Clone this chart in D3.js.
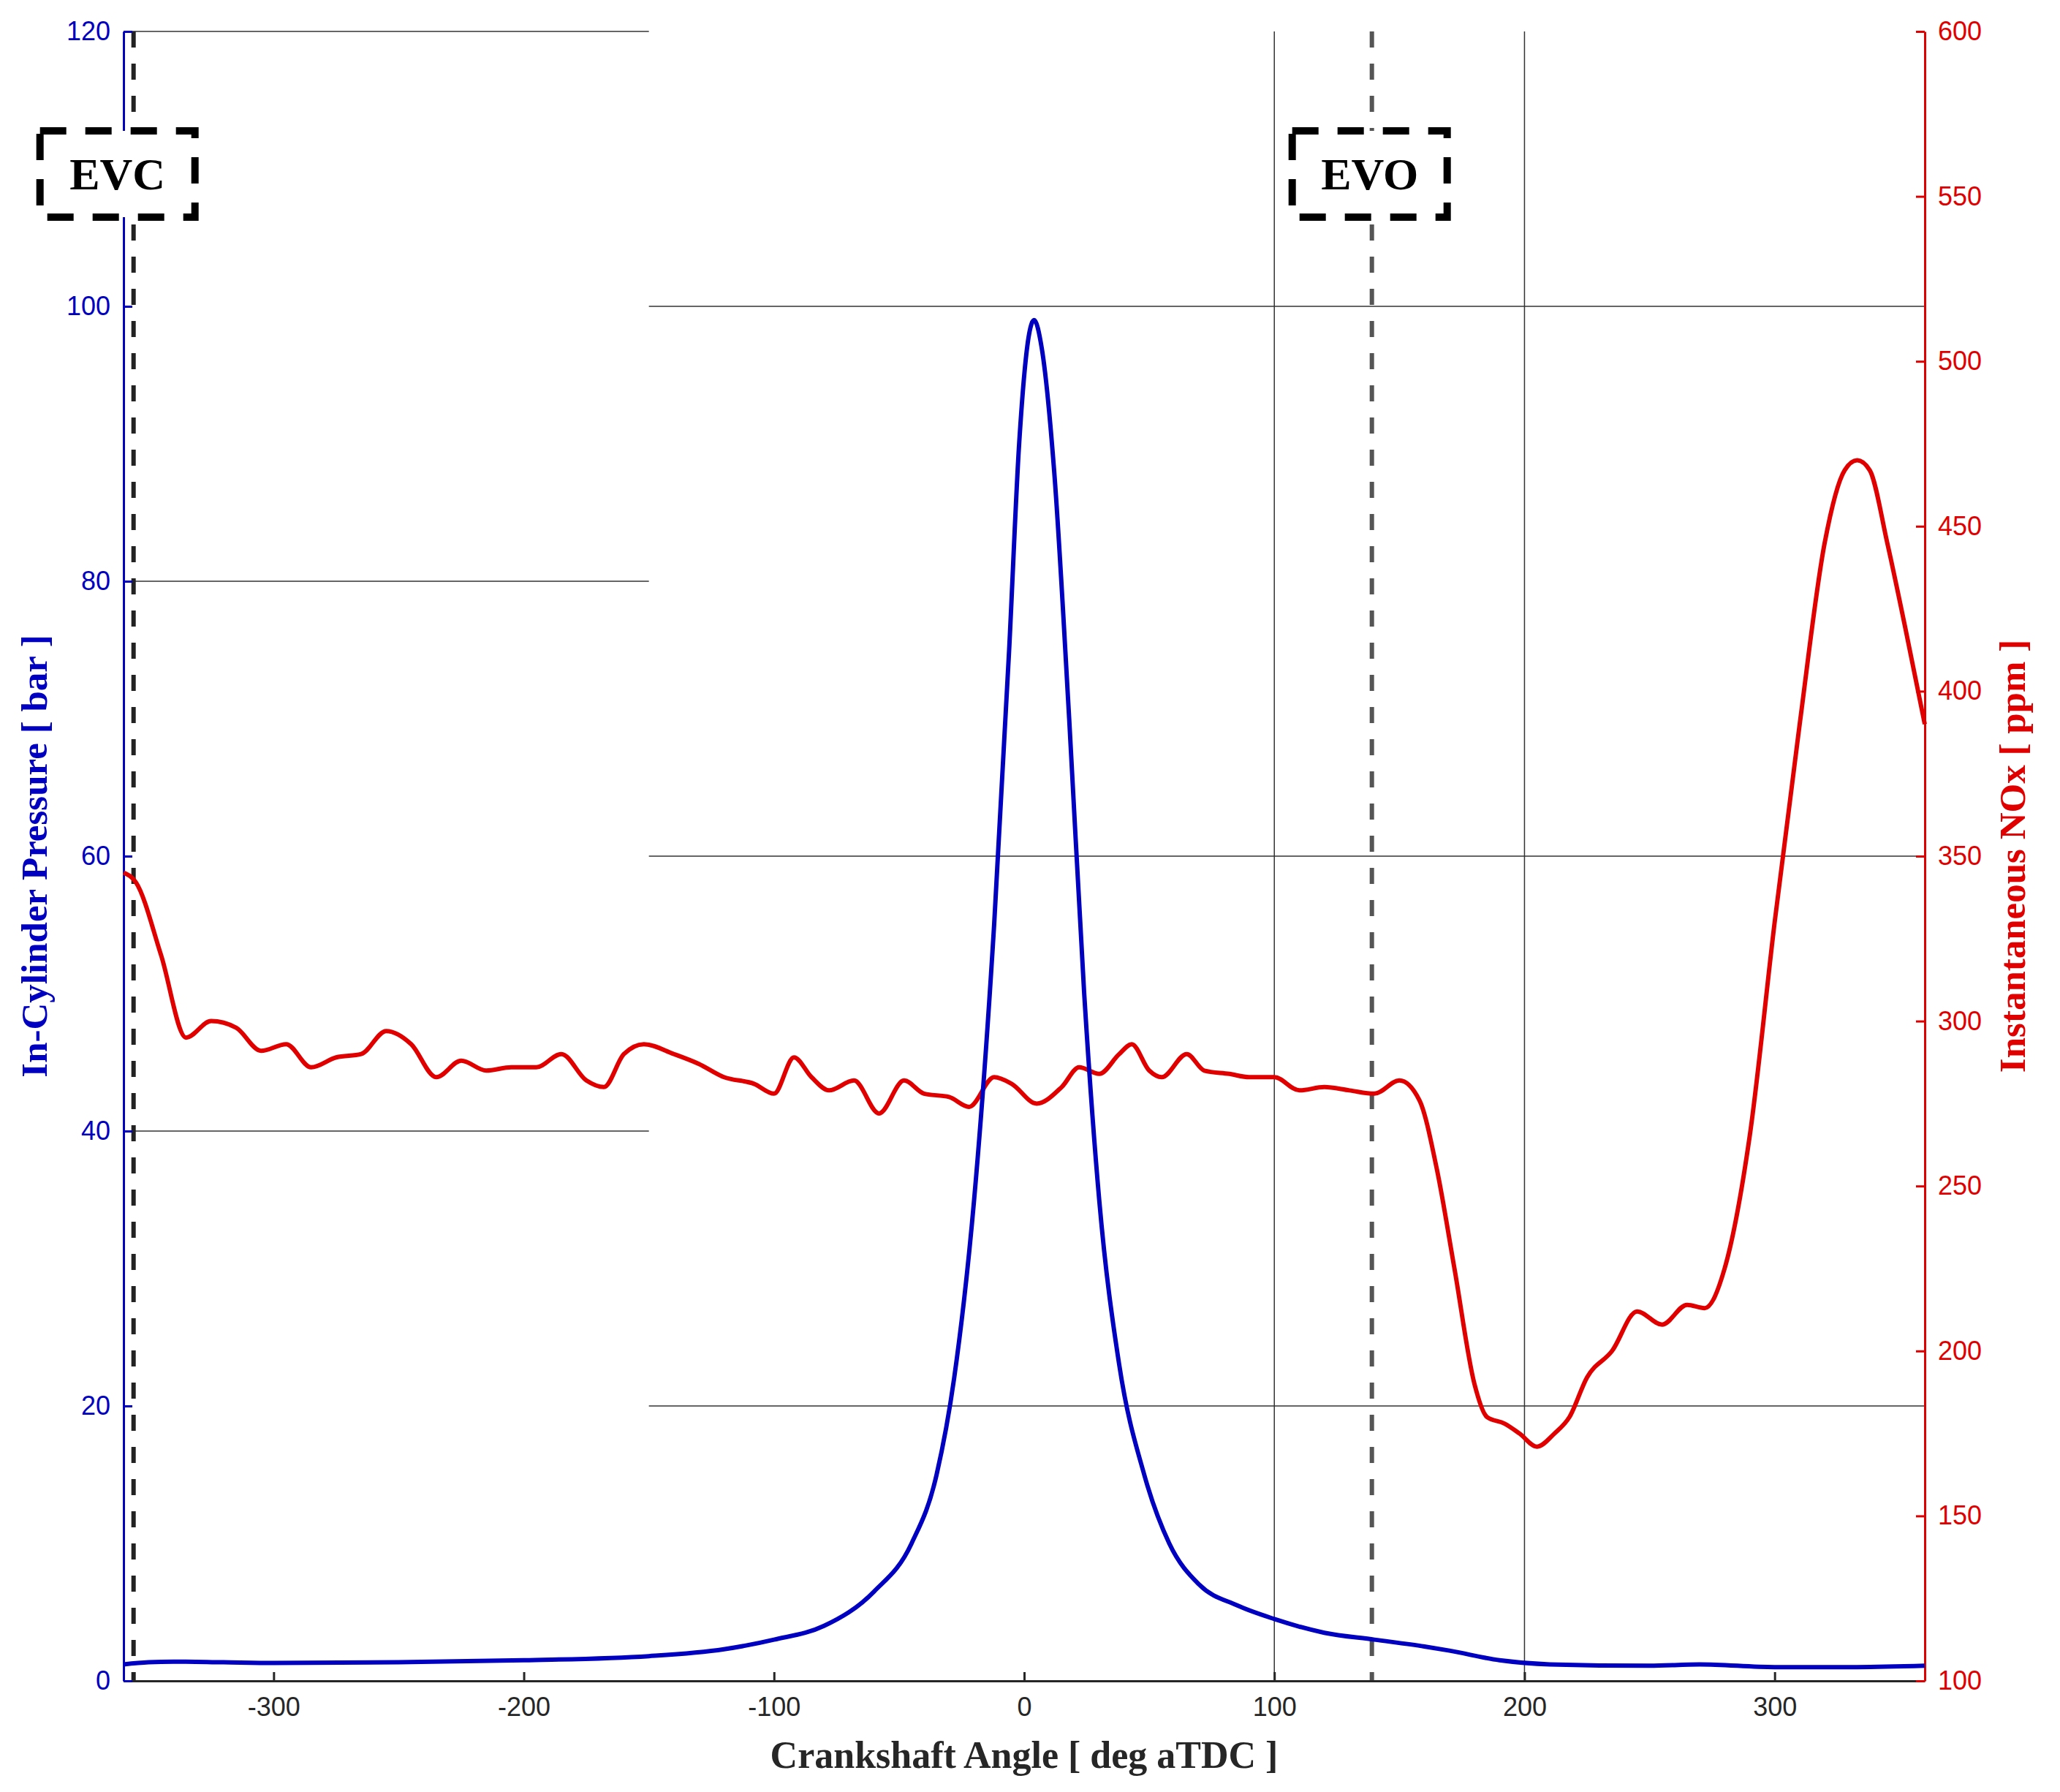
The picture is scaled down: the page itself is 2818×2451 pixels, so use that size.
<!DOCTYPE html>
<html><head><meta charset="utf-8">
<script src="https://cdn.jsdelivr.net/npm/d3@7"></script>
<style>body{margin:0;background:#fff}</style></head>
<body><svg id="c" width="2818" height="2451"></svg>
<script>
const pAngle=[-360,-350,-340,-320,-300,-250,-200,-150,-120,-100,-80,-60,-45,-35,-28,-20,-12,-6,-2,2,4,7,12,18,24,30,38,48,58,70,85,100,120,140,160,170,190,210,250,270,300,330,360];
const pressure=[1.2,1.35,1.4,1.35,1.3,1.35,1.5,1.8,2.3,3,4,6.5,10,15,22,35,55,75,90,98,99,97,88,70,50,35,23,15,10,7,5.5,4.5,3.5,3,2.5,2.2,1.5,1.2,1.1,1.2,1.0,1.0,1.1];
const nAngle=[-360,-355,-345,-335,-325,-315,-305,-295,-285,-275,-265,-255,-245,-235,-225,-215,-205,-195,-185,-175,-168,-160,-152,-140,-130,-120,-108,-100,-92,-85,-78,-68,-58,-48,-40,-30,-22,-12,-5,5,15,22,30,38,43,50,55,65,72,82,90,100,110,120,130,140,150,158,165,172,180,185,192,198,205,212,218,225,235,245,255,265,272,280,290,300,310,320,328,333,338,345,352,360];
const nox=[345,342,320,295,300,298,291,293,286,289,290,297,293,283,288,285,286,286,290,282,280,290,293,290,287,283,281,278,289,283,279,282,272,282,278,277,274,283,281,275,280,286,284,290,293,285,283,290,285,284,283,283,279,280,279,278,282,276,255,225,190,180,178,175,171,175,180,192,200,212,208,214,213,225,265,330,390,445,467,470,467,445,420,390];
const xTicks=[-300,-200,-100,0,100,200,300];
const yLeftTicks=[0,20,40,60,80,100,120];
const yRightTicks=[100,150,200,250,300,350,400,450,500,550,600];
const markers=[{a:-356,label:"EVC",color:"#222"},{a:139,label:"EVO",color:"#555"}];

const L=169,R=2633,T=43,B=2299;
const svg=d3.select("#c");
const x=d3.scaleLinear().domain([-360,360]).range([L,R]);
const yl=d3.scaleLinear().domain([0,120]).range([B,T]);
const yr=d3.scaleLinear().domain([100,600]).range([B,T]);
const fmt=d=>String(d);
const g=svg.append("g");
yLeftTicks.filter(v=>v>0).forEach(v=>{
  const left=(v/20)%2===0;
  g.append("line").attr("x1",left?x(-360):x(-150)).attr("x2",left?x(-150):x(360))
   .attr("y1",yl(v)).attr("y2",yl(v)).attr("stroke","#333").attr("stroke-width",1.5);
});
[100,200].forEach(v=>g.append("line").attr("x1",x(v)).attr("x2",x(v)).attr("y1",T).attr("y2",B).attr("stroke","#333").attr("stroke-width",1.5));
markers.forEach(m=>g.append("line").attr("x1",x(m.a)).attr("x2",x(m.a)).attr("y1",T).attr("y2",B)
  .attr("stroke",m.color).attr("stroke-width",6).attr("stroke-dasharray","22,22"));
const ax=svg.append("g").attr("transform",`translate(0,${B})`).call(d3.axisBottom(x).tickValues(xTicks).tickFormat(fmt).tickSize(-12).tickPadding(22).tickSizeOuter(0));
ax.select(".domain").attr("stroke","#262626").attr("stroke-width",3);
ax.selectAll(".tick line").attr("stroke","#262626").attr("stroke-width",3);
ax.selectAll("text").attr("fill","#262626").style("font-family","Arial, Liberation Sans").style("font-size","36px");
const al=svg.append("g").attr("transform",`translate(${L},0)`).call(d3.axisLeft(yl).tickValues(yLeftTicks).tickFormat(fmt).tickSize(-12).tickPadding(18).tickSizeOuter(0));
al.select(".domain").attr("stroke","#0000c0").attr("stroke-width",3);
al.selectAll(".tick line").attr("stroke","#0000c0").attr("stroke-width",3);
al.selectAll("text").attr("fill","#0000c0").style("font-family","Arial, Liberation Sans").style("font-size","36px");
const ar=svg.append("g").attr("transform",`translate(${R},0)`).call(d3.axisRight(yr).tickValues(yRightTicks).tickFormat(fmt).tickSize(-12).tickPadding(18).tickSizeOuter(0));
ar.select(".domain").attr("stroke","#e00000").attr("stroke-width",3);
ar.selectAll(".tick line").attr("stroke","#e00000").attr("stroke-width",3);
ar.selectAll("text").attr("fill","#e00000").style("font-family","Arial, Liberation Sans").style("font-size","36px");
svg.append("path").datum(nAngle.map((a,i)=>[a,nox[i]])).attr("fill","none").attr("stroke","#e00000").attr("stroke-width",6)
 .attr("d",d3.line().x(d=>x(d[0])).y(d=>yr(d[1])).curve(d3.curveMonotoneX));
svg.append("path").datum(pAngle.map((a,i)=>[a,pressure[i]])).attr("fill","none").attr("stroke","#0000c0").attr("stroke-width",6)
 .attr("d",d3.line().x(d=>x(d[0])).y(d=>yl(d[1])).curve(d3.curveMonotoneX));
markers.forEach(m=>{
  const cx=x(m.a)-(m.label==="EVC"?22:3), w=212,h=118, cy=238;
  svg.append("rect").attr("x",cx-w/2).attr("y",cy-h/2).attr("width",w).attr("height",h)
    .attr("fill","#fff").attr("stroke","#000").attr("stroke-width",10).attr("stroke-dasharray","36,26");
  svg.append("text").attr("x",cx).attr("y",cy+21).attr("text-anchor","middle")
    .style("font-family","Liberation Serif, Times New Roman").style("font-weight","bold").style("font-size","62px").text(m.label);
});
svg.append("text").attr("x",(L+R)/2).attr("y",2418).attr("text-anchor","middle").attr("fill","#262626")
 .style("font-family","Liberation Serif").style("font-weight","bold").style("font-size","52px").text("Crankshaft Angle [ deg aTDC ]");
svg.append("text").attr("transform",`translate(64,${(T+B)/2}) rotate(-90)`).attr("text-anchor","middle").attr("fill","#0000c0")
 .style("font-family","Liberation Serif").style("font-weight","bold").style("font-size","51px").text("In-Cylinder Pressure [ bar ]");
svg.append("text").attr("transform",`translate(2770,${(T+B)/2}) rotate(-90)`).attr("text-anchor","middle").attr("fill","#e00000")
 .style("font-family","Liberation Serif").style("font-weight","bold").style("font-size","51px").text("Instantaneous NOx [ ppm ]");
</script></body></html>
